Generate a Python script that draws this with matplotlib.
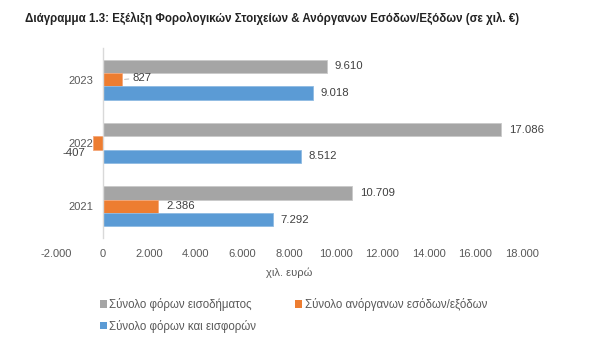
import matplotlib
matplotlib.use("Agg")
import matplotlib.pyplot as plt
from matplotlib.patches import Patch

plt.rcParams['font.family'] = ['Liberation Sans', 'DejaVu Sans']

years = ["2021", "2022", "2023"]
income_tax = [10709, 17086, 9610]
inorganic = [2386, -407, 827]
taxes_contrib = [7292, 8512, 9018]
series_names = ["Σύνολο φόρων εισοδήματος", "Σύνολο ανόργανων εσόδων/εξόδων", "Σύνολο φόρων και εισφορών"]
colors = ["#A5A5A5", "#ED7D31", "#5B9BD5"]
xticks = list(range(-2000, 18001, 2000))

def fmt(v):
    s = f"{abs(v):,}".replace(",", ".")
    return ("-" if v < 0 else "") + s

fig = plt.figure(figsize=(6.0, 3.48), dpi=100)
ax = fig.add_axes([56/600, 1-238/348, (522-56)/600, (238-48)/348])

h = 0.21
ypos = list(range(len(years)))
series = [income_tax, inorganic, taxes_contrib]
offsets = [h, 0, -h]
edge = ["#c9c9c9", "#f4a77a", "#8fbbe3"]
label_color = "#404040"
for vals, off, col, ec in zip(series, offsets, colors, edge):
    yy = [y + off for y in ypos]
    ax.barh(yy, vals, height=h, color=col, edgecolor=ec, linewidth=0.6)
    for y, v in zip(yy, vals):
        if v < 0:
            ax.annotate(fmt(v), xy=(v, y), xytext=(-8, -10), textcoords='offset pixels',
                        ha='right', va='center', fontsize=8.2, color=label_color)
        elif v < 1500:
            ax.annotate(fmt(v), xy=(v, y), xytext=(11, 2), textcoords='offset pixels',
                        ha='left', va='center', fontsize=8.2, color=label_color,
                        arrowprops=dict(arrowstyle='-', color='#bfbfbf', lw=0.8,
                                        shrinkA=1, shrinkB=2))
        else:
            ax.annotate(fmt(v), xy=(v, y), xytext=(8, 0), textcoords='offset pixels',
                        ha='left', va='center', fontsize=8.2, color=label_color)

ax.set_xlim(-2000, 18000)
ax.set_ylim(-0.5, 2.5)
ax.set_xticks(xticks)
ax.set_xticklabels([fmt(t) for t in xticks])
ax.set_yticks(ypos)
ax.set_yticklabels(years)
for s in ["top", "right", "bottom"]:
    ax.spines[s].set_visible(False)
ax.spines["left"].set_position(("data", 0))
ax.spines["left"].set_color("#d9d9d9")
ax.spines["left"].set_linewidth(1.0)
ax.tick_params(axis='both', length=0, labelsize=8, labelcolor="#595959")
ax.tick_params(axis='x', pad=8)
ax.tick_params(axis='y', pad=7)
ax.set_xlabel("χιλ. ευρώ", fontsize=8, color="#595959", labelpad=6)

fig.text(25/600, 1-18/348,
         "Διάγραμμα 1.3: Εξέλιξη Φορολογικών Στοιχείων & Ανόργανων Εσόδων/Εξόδων (σε χιλ. €)",
         ha='left', va='center', fontsize=8.3, fontweight='bold', color="#222222")

handles = [Patch(facecolor=colors[i], edgecolor='none', label=series_names[i]) for i in range(3)]
order = [0, 2, 1]
fig.legend([handles[i] for i in order], [series_names[i] for i in order],
           loc='upper left', bbox_to_anchor=(100/600, 1-298/348), ncol=2,
           frameon=False, fontsize=8.3, labelcolor="#595959",
           handlelength=0.6, handleheight=0.6, handletextpad=0.2,
           columnspacing=3.4, borderpad=0, borderaxespad=0, labelspacing=0.75)

fig.savefig("out.png", dpi=100, facecolor="white")
